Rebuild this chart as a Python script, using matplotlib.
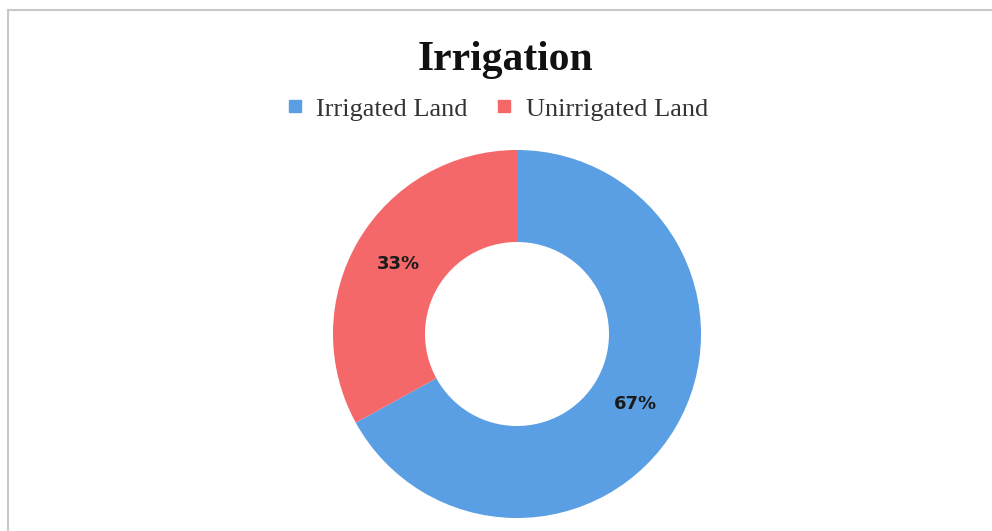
import matplotlib.pyplot as plt
from matplotlib.lines import Line2D

labels = ['Irrigated Land', 'Unirrigated Land']
shares = [67, 33]
colors = ['#5a9fe3', '#f4686a']

fig = plt.figure(figsize=(9.92, 5.31), dpi=100)

# thin gray frame around the chart area
fig.add_artist(Line2D([8/992, 8/992], [0, 1 - 10/531], color='#c8c8c8', lw=1.5))
fig.add_artist(Line2D([8/992, 1], [1 - 10/531, 1 - 10/531], color='#c8c8c8', lw=1.5))

ax = fig.add_axes([333/992, 13/531, 368/992, 368/531])
wedges, texts, pcts = ax.pie(shares, colors=colors, startangle=90, counterclock=False,
                             radius=1, wedgeprops=dict(width=0.5, edgecolor='none'),
                             autopct=lambda p: '%d%%' % round(p), pctdistance=0.75)
for t in pcts:
    t.set_fontsize(13)
    t.set_fontweight('bold')
    t.set_family('DejaVu Sans')
    t.set_color('#1a1a1a')
ax.set_xlim(-1, 1)
ax.set_ylim(-1, 1)
ax.set_aspect('equal')
ax.axis('off')

fig.text(505/992, 1 - 70/531, 'Irrigation', ha='center', va='baseline',
         family='Liberation Serif', fontweight='bold', fontsize=30, color='#111111')

handles = [Line2D([], [], marker='s', ls='none', markersize=8, color=c) for c in colors]
fig.legend(handles, labels, loc='center', bbox_to_anchor=(498/992, 1 - 109/531), ncol=2,
           frameon=False, handlelength=0.5, handletextpad=0.55, columnspacing=1.15,
           borderpad=0, prop=dict(family='Liberation Serif', size=19), labelcolor='#333333')

fig.savefig('out.png', dpi=100, facecolor='white')
